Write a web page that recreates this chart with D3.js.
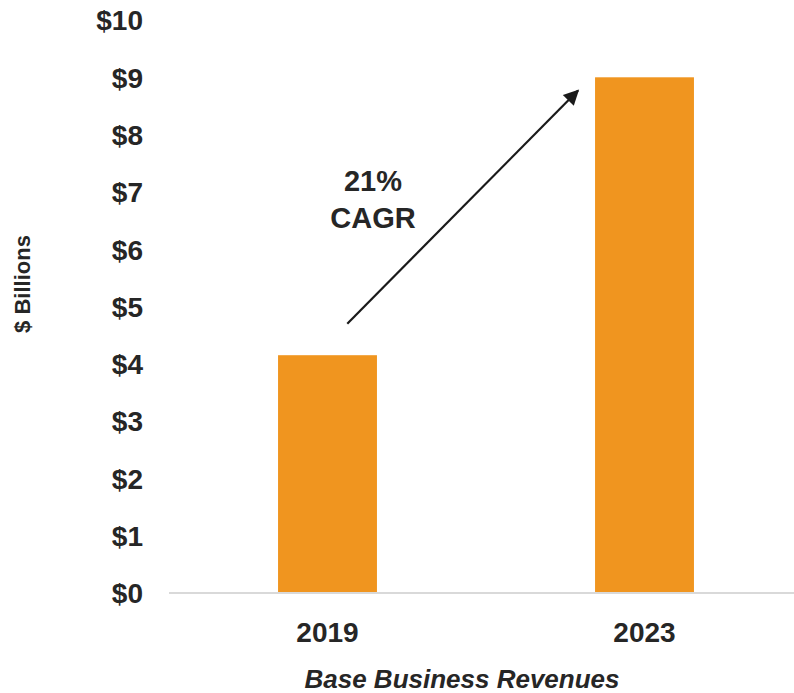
<!DOCTYPE html>
<html>
<head>
<meta charset="utf-8">
<script src="https://cdn.jsdelivr.net/npm/d3@7"></script>
<style>
  body { margin: 0; background: #fff; }
  text { font-family: "Liberation Sans", Arial, sans-serif; font-weight: bold; fill: #262626; }
</style>
</head>
<body>
<div id="chart"></div>
<script>
// data
const years = ["2019", "2023"];
const revenues = [4.15, 9.0];
const yTicks = [0, 1, 2, 3, 4, 5, 6, 7, 8, 9, 10];
const cagrLines = ["21%", "CAGR"];
const arrowFrom = {year: "2019", value: 4.7};
const arrowTo = {year: "2023", value: 8.77};

const W = 794, H = 693;

const svg = d3.select("#chart")
  .append("svg")
    .attr("width", W)
    .attr("height", H);

const x = d3.scaleBand()
  .domain(years)
  .range([169, 803])
  .paddingInner(0.688)
  .paddingOuter(0.344);

const y = d3.scaleLinear()
  .domain([0, 10])
  .range([593, 20]);

// bars
svg.append("g")
  .selectAll("rect")
  .data(years)
  .enter()
  .append("rect")
    .attr("x", d => x(d))
    .attr("y", (d, i) => y(revenues[i]))
    .attr("width", x.bandwidth())
    .attr("height", (d, i) => y(0) - y(revenues[i]))
    .attr("fill", "#F0951F");

// baseline
svg.append("line")
  .attr("x1", 169).attr("x2", W)
  .attr("y1", y(0)).attr("y2", y(0))
  .attr("stroke", "#d9d9d9")
  .attr("stroke-width", 2);

// y axis (labels only)
const yAxis = svg.append("g")
  .attr("transform", "translate(143,0)")
  .call(d3.axisLeft(y).tickValues(yTicks).tickSize(0).tickPadding(0).tickFormat(d => "$" + d));
yAxis.select(".domain").remove();
yAxis.selectAll("text")
  .style("font-size", "28px")
  .style("font-family", "'Liberation Sans', Arial, sans-serif")
  .style("font-weight", "bold")
  .attr("fill", "#262626")
  .attr("dy", "0.35em");

// x axis labels
const xAxis = svg.append("g")
  .attr("transform", `translate(0,${y(0)})`)
  .call(d3.axisBottom(x).tickSize(0).tickPadding(0));
xAxis.select(".domain").remove();
xAxis.selectAll("text")
  .style("font-size", "28px")
  .style("font-family", "'Liberation Sans', Arial, sans-serif")
  .style("font-weight", "bold")
  .attr("fill", "#262626")
  .attr("y", 39)
  .attr("dy", "0.35em");

// axis titles
svg.append("text")
  .attr("x", 462)
  .attr("y", 679)
  .attr("dy", "0.35em")
  .attr("text-anchor", "middle")
  .style("font-size", "26px")
  .style("font-style", "italic")
  .text("Base Business Revenues");

svg.append("text")
  .attr("transform", "translate(22,284) rotate(-90)")
  .attr("dy", "0.35em")
  .attr("text-anchor", "middle")
  .style("font-size", "22px")
  .text("$ Billions");

// CAGR arrow
svg.append("defs").append("marker")
  .attr("id", "arrowhead")
  .attr("viewBox", "0 0 10 10")
  .attr("refX", 9)
  .attr("refY", 5)
  .attr("markerWidth", 8)
  .attr("markerHeight", 7)
  .attr("markerUnits", "strokeWidth")
  .attr("orient", "auto")
  .append("path")
    .attr("d", "M0,0L10,5L0,10Z")
    .attr("fill", "#1a1a1a");

svg.append("line")
  .attr("x1", x(arrowFrom.year) + x.bandwidth() * 0.7)
  .attr("y1", y(arrowFrom.value))
  .attr("x2", x(arrowTo.year) - 17)
  .attr("y2", y(arrowTo.value))
  .attr("stroke", "#1a1a1a")
  .attr("stroke-width", 2.2)
  .attr("marker-end", "url(#arrowhead)");

svg.append("g")
  .selectAll("text")
  .data(cagrLines)
  .enter()
  .append("text")
    .attr("x", 373)
    .attr("y", (d, i) => 181 + i * 37)
    .attr("dy", "0.35em")
    .attr("text-anchor", "middle")
    .style("font-size", "29px")
    .text(d => d);
</script>
</body>
</html>
